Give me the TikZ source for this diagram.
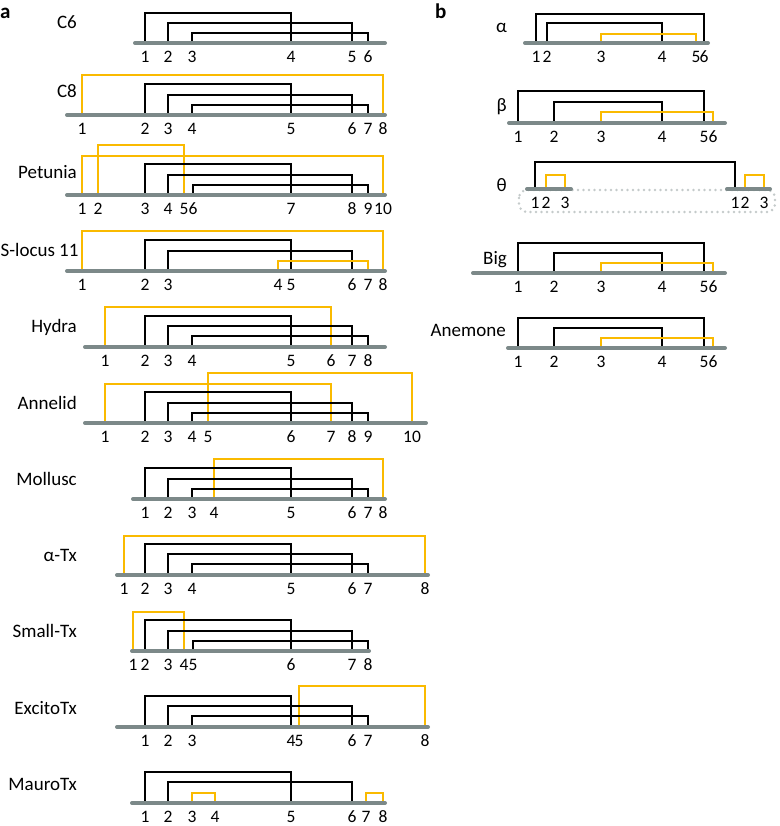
\documentclass[tikz,border=0pt]{standalone}
\usepackage{fontspec}
\setmainfont{Carlito}
\usepackage{xcolor}
\usepackage{tikz}
\definecolor{bargray}{RGB}{124,137,137}
\definecolor{bondgold}{RGB}{250,186,0}
\definecolor{fencegray}{RGB}{196,202,202}

% one row of cysteines: coordinates on the backbone and their numbers below it
\newcommand{\cysrow}[3]{%
  \foreach \cx [count=\ci] in {#3} {
    \coordinate (#1-\ci) at (\cx,#2);
    \node[cys] (#1-n\ci) at (\cx,#2+14) {\ci};
  }}
% disulfide bond between cysteine #3 and #4 of row #2, height #5
\newcommand{\ssbond}[5][bond]{\draw[#1] (#2-#3) -- ++(0,-#5) -| (#2-#4);}
\newcommand{\backbone}[3]{\draw[chain] (#2,#1) -- (#3,#1);}

\begin{document}
\begin{tikzpicture}[x=1pt, y=-1pt,
    chain/.style={line width=4pt, draw=bargray, line cap=round},
    bond/.style={line width=1.4pt, draw=black},
    extra/.style={bond, draw=bondgold},
    fence/.style={line width=2.8pt, draw=fencegray, line cap=round, dash pattern=on 0pt off 5.5pt, rounded corners=8pt},
    cys/.style={font=\fontsize{17.5}{17.5}\selectfont, inner sep=0pt},
    tagname/.style={anchor=base east, font=\fontsize{19}{19}\selectfont, inner sep=0pt},
    panellabel/.style={anchor=base west, font=\fontsize{21}{21}\selectfont\bfseries, inner sep=0pt}]
  \useasboundingbox (0,0) rectangle (779,826);

  % panel a
  \node[panellabel] (lbl-a) at (0,18.5) {a};

  \cysrow{c6}{43}{145,168,192,291,352,368}
  \ssbond{c6}{1}{4}{30} \ssbond{c6}{2}{5}{20} \ssbond{c6}{3}{6}{10}
  \backbone{43}{135}{385}
  \node[tagname] (c6-name) at (77,28.5) {C6};

  \cysrow{c8}{115}{82,145,168,192,291,352,368,383}
  \ssbond[extra]{c8}{1}{8}{40}
  \ssbond{c8}{2}{5}{31} \ssbond{c8}{3}{6}{20} \ssbond{c8}{4}{7}{10}
  \backbone{115}{67}{385}
  \node[tagname] (c8-name) at (77,97.5) {C8};

  \cysrow{pet}{195}{82,98,145,168,184,193,291,352,368,383}
  \ssbond[extra]{pet}{1}{10}{39} \ssbond[extra]{pet}{2}{5}{50}
  \ssbond{pet}{3}{7}{31} \ssbond{pet}{4}{8}{20} \ssbond{pet}{6}{9}{10}
  \backbone{195}{67}{385}
  \node[tagname] (pet-name) at (77,179) {Petunia};

  \cysrow{slo}{271}{82,145,168,278,291,352,368,383}
  \ssbond[extra]{slo}{1}{8}{40}
  \ssbond{slo}{2}{5}{31} \ssbond{slo}{3}{6}{20}
  \ssbond[extra]{slo}{4}{7}{10}
  \backbone{271}{67}{385}
  \node[tagname, anchor=base west] (slo-name) at (0.5,256) {S-locus 11};

  \cysrow{hyd}{347}{105,145,168,192,291,331,352,368}
  \ssbond[extra]{hyd}{1}{6}{40}
  \ssbond{hyd}{2}{5}{31} \ssbond{hyd}{3}{7}{21} \ssbond{hyd}{4}{8}{11}
  \backbone{347}{85}{385}
  \node[tagname] (hyd-name) at (77,332) {Hydra};

  \cysrow{ann}{423}{105,145,168,192,208,291,331,352,368,412}
  \ssbond[extra]{ann}{1}{7}{39} \ssbond[extra]{ann}{5}{10}{50}
  \ssbond{ann}{2}{6}{31} \ssbond{ann}{3}{8}{20} \ssbond{ann}{4}{9}{10}
  \backbone{423}{85}{426}
  \node[tagname] (ann-name) at (77,409) {Annelid};

  \cysrow{mol}{499}{145,168,192,214,291,352,368,383}
  \ssbond[extra]{mol}{4}{8}{40}
  \ssbond{mol}{1}{5}{31} \ssbond{mol}{2}{6}{20} \ssbond{mol}{3}{7}{10}
  \backbone{499}{133}{385}
  \node[tagname] (mol-name) at (77,485) {Mollusc};

  \cysrow{atx}{575}{124,145,168,192,291,352,368,425}
  \ssbond[extra]{atx}{1}{8}{39}
  \ssbond{atx}{2}{5}{31} \ssbond{atx}{3}{6}{21} \ssbond{atx}{4}{7}{11}
  \backbone{575}{117}{428}
  \node[tagname] (atx-name) at (77,561.5) {α-Tx};

  \cysrow{stx}{651}{133,145,168,184,193,291,352,368}
  \ssbond[extra]{stx}{1}{4}{39}
  \ssbond{stx}{2}{6}{31} \ssbond{stx}{3}{7}{20} \ssbond{stx}{5}{8}{10}
  \backbone{651}{132}{369}
  \node[tagname] (stx-name) at (77,637.5) {Small-Tx};

  \cysrow{etx}{727}{145,168,192,291,299,352,368,425}
  \ssbond[extra]{etx}{5}{8}{41}
  \ssbond{etx}{1}{4}{31} \ssbond{etx}{2}{6}{21} \ssbond{etx}{3}{7}{11}
  \backbone{727}{117}{428}
  \node[tagname] (etx-name) at (77,714) {ExcitoTx};

  \cysrow{mtx}{803}{145,168,192,215,291,352,366,383}
  \ssbond{mtx}{1}{5}{31} \ssbond{mtx}{2}{6}{21}
  \ssbond[extra]{mtx}{3}{4}{10} \ssbond[extra]{mtx}{7}{8}{10}
  \backbone{803}{132}{385}
  \node[tagname] (mtx-name) at (77,790.5) {MauroTx};

  % panel b
  \node[panellabel] (lbl-b) at (435,18.5) {b};

  \cysrow{alp}{43}{536,547,601,662,696,704}
  \ssbond{alp}{1}{6}{29} \ssbond{alp}{2}{4}{20}
  \ssbond[extra]{alp}{3}{5}{9}
  \backbone{43}{525}{708}
  \node[tagname] (alp-name) at (507,33) {α};

  \cysrow{bet}{123}{518,554,601,662,704,713}
  \ssbond{bet}{1}{5}{32} \ssbond{bet}{2}{4}{21}
  \ssbond[extra]{bet}{3}{6}{11}
  \backbone{123}{509}{725}
  \node[tagname] (bet-name) at (507,111.5) {β};

  \draw[fence] (519,190) rectangle (775,212);
  \cysrow{thl}{189}{535,546,565}
  \cysrow{thr}{189}{735,745,764}
  \draw[bond] (thl-1) -- ++(0,-27) -| (thr-1);
  \ssbond[extra]{thl}{2}{3}{14} \ssbond[extra]{thr}{2}{3}{14}
  \backbone{189}{527}{571} \backbone{189}{727}{770}
  \node[tagname] (the-name) at (507,191.5) {θ};

  \cysrow{big}{273}{518,554,601,662,704,713}
  \ssbond{big}{1}{5}{30} \ssbond{big}{2}{4}{20}
  \ssbond[extra]{big}{3}{6}{10}
  \backbone{273}{473}{725}
  \node[tagname] (big-name) at (507,264) {Big};

  \cysrow{ane}{348}{518,554,601,662,704,713}
  \ssbond{ane}{1}{5}{30} \ssbond{ane}{2}{4}{20}
  \ssbond[extra]{ane}{3}{6}{10}
  \backbone{348}{508}{725}
  \node[tagname] (ane-name) at (506,336.5) {Anemone};
\end{tikzpicture}
\end{document}
